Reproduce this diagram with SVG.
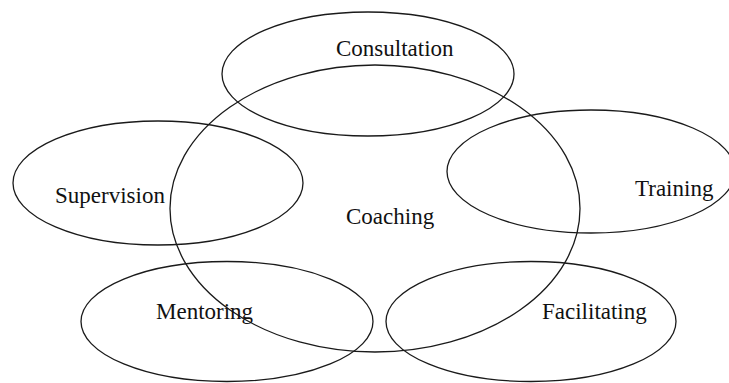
<svg xmlns="http://www.w3.org/2000/svg" width="729" height="383" viewBox="0 0 729 383">
<style>
.e{fill:none;stroke:#1a1a1a;stroke-width:1.3}
.t{font-family:"Liberation Serif","Times New Roman",serif;font-size:23px;fill:#111}
</style>
<rect width="729" height="383" fill="#fff"/>
<g id="connectors"/>
<g id="coaching"><ellipse class="e" cx="375" cy="208.5" rx="205" ry="143.5"/><text class="t" x="346" y="224">Coaching</text></g>
<g id="consultation"><ellipse class="e" cx="368" cy="74" rx="146" ry="62"/><text class="t" x="336" y="56">Consultation</text></g>
<g id="supervision"><ellipse class="e" cx="158" cy="183" rx="145" ry="62"/><text class="t" x="55" y="203">Supervision</text></g>
<g id="training"><ellipse class="e" cx="591" cy="171.5" rx="144" ry="61.5"/><text class="t" x="635" y="196">Training</text></g>
<g id="mentoring"><ellipse class="e" cx="227" cy="321.5" rx="146" ry="60"/><text class="t" x="156" y="319">Mentoring</text></g>
<g id="facilitating"><ellipse class="e" cx="531" cy="321.5" rx="145" ry="60"/><text class="t" x="542" y="319">Facilitating</text></g>
</svg>
